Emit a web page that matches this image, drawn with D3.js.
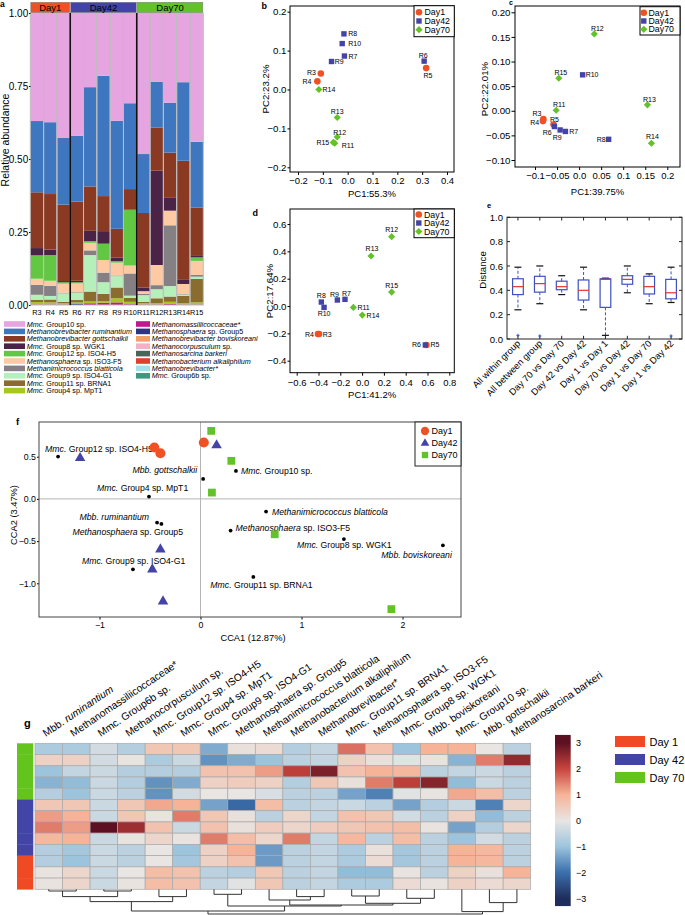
<!DOCTYPE html>
<html><head><meta charset="utf-8">
<script src="https://cdn.jsdelivr.net/npm/d3@7"></script>
<style>body{margin:0;background:#fff}</style>
</head><body>
<script>
// ---------------- DATA ----------------
const samples = ["R3","R4","R5","R6","R7","R8","R9","R10","R11","R12","R13","R14","R15"];
const sampleDay = ["Day1","Day1","Day1","Day42","Day42","Day42","Day42","Day42","Day70","Day70","Day70","Day70","Day70"];
const dayNames = ["Day1","Day42","Day70"];

// panel a: taxa (legend order, top of stack first)
const taxa = ["Mmc. Group10 sp.","Methanobrevibacter ruminantium","Methanobrevibacter gottschalkii","Mmc. Group8 sp. WGK1",
  "Mmc. Group12 sp. ISO4-H5","Methanosphaera sp. ISO3-F5","Methanimicrococcus blatticola","Mmc. Group9 sp. ISO4-G1",
  "Mmc. Group11 sp. BRNA1","Mmc. Group4 sp. MpT1","Methanomassiliicoccaceae*","Methanosphaera sp. Group5",
  "Methanobrevibacter boviskoreani","Methanocorpusculum sp.","Methanosarcina barkeri","Methanobacterium alkaliphilum",
  "Methanobrevibacter*","Mmc. Group6b sp."];
const abGroup10      = [0.370,0.374,0.428,0.421,0.254,0.215,0.369,0.309,0.483,0.236,0.307,0.237,0.441];
const abRuminantium  = [0.244,0.246,0.228,0.225,0.340,0.412,0.370,0.294,0.202,0.156,0.171,0.269,0.225];
const abGottschalkii = [0.191,0.190,0.262,0.271,0.152,0.120,0.099,0.070,0.255,0.148,0.155,0.408,0.166];
const abGroup8       = [0.025,0.019,0.004,0.005,0.035,0.043,0.012,0.002,0.012,0.323,0.044,0.014,0.005];
const abGroup12      = [0.080,0.088,0.005,0.004,0.006,0.056,0.005,0.190,0.002,0.000,0.000,0.000,0.012];
const abISO3F5       = [0.021,0.017,0.031,0.030,0.026,0.043,0.044,0.027,0.008,0.069,0.050,0.034,0.048];
const abBlatticola   = [0.034,0.035,0.002,0.002,0.016,0.033,0.002,0.076,0.004,0.014,0.208,0.002,0.006];
const abGroup9       = [0.017,0.012,0.029,0.025,0.125,0.040,0.039,0.007,0.023,0.031,0.036,0.005,0.008];
const abGroup11      = [0.008,0.010,0.005,0.008,0.034,0.025,0.037,0.014,0.005,0.017,0.018,0.025,0.080];
const abGroup4       = [0.008,0.007,0.004,0.004,0.006,0.005,0.014,0.008,0.004,0.004,0.006,0.004,0.007];
const abMassilii     = [0.002,0.002,0.002,0.000,0.006,0.008,0.009,0.003,0.002,0.002,0.005,0.002,0.002];
const abGroup5       = [0.000,0.000,0.000,0.005,0.000,0.000,0.000,0.000,0.000,0.000,0.000,0.000,0.000];
const abBoviskoreani = [0,0,0,0,0,0,0,0,0,0,0,0,0];
const abCorpusculum  = [0,0,0,0,0,0,0,0,0,0,0,0,0];
const abSarcina      = [0,0,0,0,0,0,0,0,0,0,0,0,0];
const abAlkaliphilum = [0,0,0,0,0,0,0,0,0,0,0,0,0];
const abMbbStar      = [0,0,0,0,0,0,0,0,0,0,0,0,0];
const abGroup6b      = [0,0,0,0,0,0,0,0,0,0,0,0,0];
const abundance = [abGroup10,abRuminantium,abGottschalkii,abGroup8,abGroup12,abISO3F5,abBlatticola,abGroup9,abGroup11,abGroup4,
  abMassilii,abGroup5,abBoviskoreani,abCorpusculum,abSarcina,abAlkaliphilum,abMbbStar,abGroup6b];
const aTicks = [0,0.25,0.5,0.75,1];

// panel b PCA
const bX = [-0.108,-0.122,0.316,0.308,-0.013,-0.015,-0.065,-0.022,-0.052,-0.042,-0.042,-0.116,-0.058];
const bY = [0.041,0.021,0.055,0.073,0.086,0.143,0.072,0.118,-0.138,-0.122,-0.072,0.000,-0.136];
const bXTicks = [-0.2,-0.1,0,0.1,0.2,0.3,0.4];
const bXTickLabels = ["−0.2","−0.1","0.0","0.1","0.2","0.3","0.4"];
const bYTicks = [-0.2,-0.1,0,0.1,0.2];
const bYTickLabels = ["−0.2","−0.1","0.0","0.1","0.2"];
// panel c PCA
const cX = [-0.081,-0.082,-0.058,-0.056,-0.031,0.067,-0.043,0.008,-0.052,0.0345,0.155,0.164,-0.046];
const cY = [-0.017,-0.021,-0.028,-0.032,-0.042,-0.058,-0.039,0.073,0.001,0.156,0.012,-0.066,0.066];
const cXTicks = [-0.1,-0.05,0,0.05,0.1,0.15,0.2];
const cXTickLabels = ["−0.1","−0.05","0.0","0.05","0.1","0.15","0.2"];
const cYTicks = [-0.1,-0.05,0,0.05,0.1,0.15,0.2];
const cYTickLabels = ["−0.10","−0.05","0.00","0.05","0.10","0.15","0.20"];
// panel d PCA
const dX = [-0.395,-0.405,0.59,0.58,-0.157,-0.374,-0.227,-0.349,-0.080,0.271,0.082,0.002,0.271];
const dY = [-0.205,-0.205,-0.285,-0.285,0.049,0.029,0.044,-0.010,-0.010,0.507,0.366,-0.066,0.102];
const dXTicks = [-0.6,-0.4,-0.2,0,0.2,0.4,0.6,0.8];
const dXTickLabels = ["−0.6","−0.4","−0.2","0.0","0.2","0.4","0.6","0.8"];
const dYTicks = [-0.4,-0.2,0,0.2,0.4,0.6];
const dYTickLabels = ["−0.4","−0.2","0.0","0.2","0.4","0.6"];

// panel e boxplots
const eCats = ["All within group","All between group","Day 70 vs Day 70","Day 42 vs Day 42","Day 1 vs Day 1","Day 70 vs Day 42","Day 1 vs Day 70","Day 1 vs Day 42"];
const eMin = [0.24,0.29,0.365,0.24,0.03,0.38,0.29,0.30];
const eQ1  = [0.365,0.385,0.405,0.32,0.26,0.45,0.37,0.33];
const eMed = [0.43,0.455,0.43,0.40,0.49,0.49,0.43,0.38];
const eQ3  = [0.495,0.515,0.475,0.485,0.495,0.52,0.515,0.49];
const eMax = [0.59,0.60,0.52,0.59,0.50,0.60,0.535,0.59];
const eOutliers = [[0.03],[0.025],[],[],[],[],[],[0.025]];
const eYTicks = [0,0.2,0.4,0.6,0.8,1.0];

// panel f CCA
const fDay1X = [-0.457,-0.397,0.033];           const fDay1Y = [0.609,0.541,0.668];
const fDay42X = [-1.192,0.159,-0.397,-0.477,-0.371]; const fDay42Y = [0.49,0.64,-0.593,-0.830,-1.209];
const fDay70X = [0.106,0.305,0.113,0.735,1.89];  const fDay70Y = [0.806,0.451,0.075,-0.419,-1.306];
const fSpecies = ["Mmc. Group12 sp. ISO4-H5","Mbb. gottschalkii","Mmc. Group10 sp.","Mmc. Group4 sp. MpT1","Mbb. ruminantium",
  "Methanosphaera sp. Group5","Mmc. Group9 sp. ISO4-G1","Methanimicrococcus blatticola","Methanosphaera sp. ISO3-F5",
  "Mmc. Group8 sp. WGK1","Mbb. boviskoreani","Mmc. Group11 sp. BRNA1"];
const fSpX = [-1.41,0.026,0.351,-0.51,-0.43,-0.387,-0.669,0.649,0.298,1.42,2.40,0.523];
const fSpY = [0.502,0.237,0.332,0.028,-0.281,-0.296,-0.834,-0.150,-0.375,-0.476,-0.55,-0.925];
const fXTicks = [-1,0,1,2];
const fXTickLabels = ["−1","0","1","2"];
const fYTicks = [-1,-0.5,0,0.5];
const fYTickLabels = ["−1.0","−0.5","0.0","0.5"];

// panel g heatmap
const hmCols = ["Mbb. ruminantium","Methanomassiliicoccaceae*","Mmc. Group6b sp.","Methanocorpusculum sp.","Mmc. Group12 sp. ISO4-H5",
  "Mmc. Group4 sp. MpT1","Mmc. Group9 sp. ISO4-G1","Methanosphaera sp. Group5","Methanimicrococcus blatticola",
  "Methanobacterium alkaliphilum","Methanobrevibacter*","Mmc. Group11 sp. BRNA1","Methanosphaera sp. ISO3-F5",
  "Mmc. Group8 sp. WGK1","Mbb. boviskoreani","Mmc. Group10 sp.","Mbb. gottschalkii","Methanosarcina barkeri"];
const hmRowDay = ["Day70","Day70","Day70","Day70","Day70","Day42","Day42","Day42","Day42","Day42","Day1","Day1","Day1"];
const hmR1  = [-0.8,-0.8,-0.3,-0.7,0.6,0.6,-1.3,0.1,0.2,-0.7,-0.5,1.6,0.7,-1.0,1.0,1.0,0,-0.6];
const hmR2  = [0.4,0.4,-0.3,0.05,-0.8,-0.4,-1.6,-1.3,-1.0,-0.6,-0.5,0.4,0.1,-0.1,0.05,-1.2,1.5,2.5];
const hmR3  = [-1.0,-0.5,-0.4,-0.7,-0.7,-0.7,0.7,0.7,1.2,2.1,2.7,0.7,1.0,0.9,-0.6,-0.5,-0.4,-0.6];
const hmR4  = [-1.2,-1.1,-0.4,-0.7,-1.6,-1.3,0.4,0.5,0.4,-0.7,0.6,0.1,1.5,2.1,2.6,-1.1,-0.4,-0.6];
const hmR5  = [-0.7,-1.0,-0.4,-0.6,-1.6,-0.3,0,0,-0.2,-0.6,-0.6,-1.4,-1.8,-0.1,0.05,1.1,0.8,-0.6];
const hmR6  = [0.6,0.6,-0.4,0.6,1.1,1.0,-1.4,-2.1,0.8,-0.6,-0.5,-0.4,-0.6,-1.4,-0.7,-0.4,-1.8,0.3];
const hmR7  = [1.2,1.0,-0.4,0.6,0.05,1.5,0.6,0.1,-0.6,0.3,-0.5,0.7,0.6,-0.3,-0.6,0.4,-1.1,-0.6];
const hmR8  = [1.5,1.2,3.0,2.4,0.7,-0.4,0.7,0.1,0.5,0.3,0.5,0.6,0.7,0.8,0.05,-1.4,-0.7,0.3];
const hmR9  = [0.9,1.0,-0.4,0.05,0.3,0.05,1.5,0.8,0.3,1.5,-0.5,0.9,-0.6,0.8,-0.6,-1.0,-0.3,-0.6];
const hmR10 = [-0.7,-0.9,-0.4,-0.6,0,-1.0,0.4,1.0,-1.5,-0.6,-0.5,-0.8,0.1,-0.9,-0.6,1.0,0.9,-0.6];
const hmR11 = [-0.7,-1.0,-0.4,-0.6,0,-0.9,0.4,0.7,-1.5,-0.6,-0.5,-0.8,0.2,-0.9,-0.6,1.0,0.9,-0.6];
const hmR12 = [0.05,0.3,-0.4,0,0.8,0.7,-0.6,-0.7,0.6,-0.6,-0.5,-1.1,-1.1,0.05,-0.6,0.4,0.1,1.0];
const hmR13 = [0.05,0.3,-0.4,0.05,0.8,0.7,-0.5,-0.1,0.6,-0.6,-0.5,-0.8,-0.8,0.2,0.05,0.4,0.2,0.3];
const hmRows = [hmR1,hmR2,hmR3,hmR4,hmR5,hmR6,hmR7,hmR8,hmR9,hmR10,hmR11,hmR12,hmR13];
const hmLegendTicks = [-3,-2,-1,0,1,2,3];
const hmLegendDays = ["Day 1","Day 42","Day 70"];
// column dendrogram: [left, right, height]; leaves are column indices
const colTree = [[[[[0,1,1.7],[2,3,1.7],7.3],[4,5,7.3],12.3],[[6,7,5],[[8,[9,10,7.3],10.7],[[11,12,6.7],[13,14,9],14],15.7],16.7],21.7],[15,[16,17,13.3],22.3],24.7];

// ---------------- STYLE ----------------
const FONT = "'Liberation Sans', Arial, Helvetica, sans-serif";
const taxonColors = ["#e6a5e1","#3e77c0","#8a3a22","#4a2347","#62c843","#fdcaa3","#858083","#b5efba","#8a6c2e","#a6c81a",
  "#c0198f","#2b3580","#f29f69","#f5b0c8","#4a6458","#e0402a","#a4e0e8","#3a9a80"];
const dayColor = {Day1:"#ef5125",Day42:"#4444a8",Day70:"#63c12a"};
const hmDayColor = {"Day1":"#ef4a24","Day42":"#4245a6","Day70":"#63c41e","Day 1":"#ef4a24","Day 42":"#4245a6","Day 70":"#63c41e"};

const svg = d3.select("body").append("svg").attr("width",685).attr("height",915).style("font-family",FONT);
svg.append("rect").attr("width",685).attr("height",915).attr("fill","#fff");

function taxonText(sel, name){
  const words = name.split(" ");
  words.forEach((w,i)=>{
    const up = w==="sp." || /\d/.test(w);
    sel.append("tspan").attr("font-style", up?"normal":"italic").text((i?" ":"")+w);
  });
}
function styleAxis(g, fs){
  g.attr("font-family",FONT).attr("font-size",fs);
  g.select(".domain").remove();
  g.selectAll(".tick line").attr("stroke","#000");
  g.selectAll(".tick text").attr("fill","#000");
}
function panelLetter(t,x,y,fs){ svg.append("text").attr("x",x).attr("y",y).attr("font-weight","bold").attr("font-size",fs).text(t); }
function marker(g, day, x, y, kind){
  const c = dayColor[day];
  if(kind==="pca"){
    if(day==="Day1") g.append("circle").attr("cx",x).attr("cy",y).attr("r",3.3).attr("fill",c);
    else if(day==="Day42") g.append("rect").attr("x",x-2.7).attr("y",y-2.7).attr("width",5.4).attr("height",5.4).attr("fill",c);
    else { const r=3.6; g.append("path").attr("d",`M${x},${y-r}L${x+r},${y}L${x},${y+r}L${x-r},${y}Z`).attr("fill",c); }
  } else {
    const s = kind;
    if(day==="Day1") g.append("circle").attr("cx",x).attr("cy",y).attr("r",s*0.48).attr("fill",c);
    else if(day==="Day42"){ const h=s*0.87; g.append("path").attr("d",`M${x},${y-h*0.62}L${x+s/2},${y+h*0.38}L${x-s/2},${y+h*0.38}Z`).attr("fill",c); }
    else g.append("rect").attr("x",x-s*0.37).attr("y",y-s*0.37).attr("width",s*0.74).attr("height",s*0.74).attr("fill",c);
  }
}

// ---------------- PANEL A ----------------
(function(){
  const g = svg.append("g");
  const ax = d3.scaleBand().domain(samples).range([30.3,203.3]);
  const ay = d3.scaleLinear().domain([0,1]).range([305,13]);
  const rows = samples.map((s,i)=>{ const o={}; taxa.forEach((t,j)=>o[t]=abundance[j][i]); return o; });
  const series = d3.stack().keys(taxa.slice().reverse())(rows);
  series.forEach(sr=>{
    const col = taxonColors[taxa.indexOf(sr.key)];
    g.append("g").selectAll("rect").data(sr).join("rect")
      .attr("x",(d,i)=>ax(samples[i])).attr("width",ax.bandwidth())
      .attr("y",d=>ay(d[1])).attr("height",d=>Math.max(0,ay(d[0])-ay(d[1]))).attr("fill",col);
  });
  g.append("g").selectAll("rect").data(samples).join("rect")
    .attr("x",d=>ax(d)).attr("width",ax.bandwidth()).attr("y",ay(1)).attr("height",ay(0)-ay(1))
    .attr("fill","none").attr("stroke","#bdbdbd").attr("stroke-width",1);
  ["R6","R11"].forEach(s=>g.append("line").attr("x1",ax(s)).attr("x2",ax(s)).attr("y1",ay(1)).attr("y2",ay(0)).attr("stroke","#111").attr("stroke-width",1.6));
  dayNames.forEach(day=>{
    const ss = samples.filter((s,i)=>sampleDay[i]===day);
    const x0 = ax(ss[0]), x1 = ax(ss[ss.length-1])+ax.bandwidth();
    g.append("rect").attr("x",x0+0.5).attr("y",2.3).attr("width",x1-x0-1).attr("height",10.2).attr("fill",dayColor[day]).attr("stroke","#777").attr("stroke-width",0.5);
    g.append("text").attr("x",(x0+x1)/2).attr("y",10.9).attr("text-anchor","middle").attr("font-size",9.5).text(day);
  });
  g.append("g").attr("transform","translate(30.5,0)")
    .call(d3.axisLeft(ay).tickValues(aTicks).tickFormat(d3.format(".2f")).tickSize(1.5).tickPadding(0.8)).call(a=>styleAxis(a,10));
  g.append("g").selectAll("text").data(samples).join("text")
    .attr("x",d=>ax(d)+ax.bandwidth()/2).attr("y",315).attr("text-anchor","middle").attr("font-size",7.3).text(d=>d);
  g.append("text").attr("transform","translate(9,140) rotate(-90)").attr("text-anchor","middle").attr("font-size",10.5).text("Relative abundance");
  taxa.forEach((t,i)=>{
    const col = i<10?0:1, row = i<10?i:i-10;
    const sx = col?136:4, sw = col?14:21, ty = 324+row*7.4;
    g.append("rect").attr("x",sx).attr("y",ty-2.8).attr("width",sw).attr("height",5.6).attr("fill",taxonColors[i]);
    const tx = g.append("text").attr("x",col?151.7:26.8).attr("y",ty+2.5).attr("font-size",7.2);
    taxonText(tx,t);
  });
  panelLetter("a",0,7,8.5);
})();

// ---------------- PANELS B, C, D ----------------
function drawPCA(cfg){
  const g = svg.append("g");
  const x = d3.scaleLinear().domain(cfg.xd).range(cfg.xr);
  const y = d3.scaleLinear().domain(cfg.yd).range(cfg.yr);
  const [fx0,fx1,fy0,fy1] = cfg.frame;
  g.append("g").attr("transform",`translate(0,${fy1})`)
    .call(d3.axisBottom(x).tickValues(cfg.xt).tickFormat((d,i)=>cfg.xtl[i]).tickSize(3).tickPadding(cfg.bp)).call(a=>styleAxis(a,9.5));
  g.append("g").attr("transform",`translate(${fx0},0)`)
    .call(d3.axisLeft(y).tickValues(cfg.yt).tickFormat((d,i)=>cfg.ytl[i]).tickSize(cfg.lt).tickPadding(1)).call(a=>styleAxis(a,9.7));
  g.append("rect").attr("x",fx0).attr("y",fy0).attr("width",fx1-fx0).attr("height",fy1-fy0).attr("fill","none").attr("stroke","#000").attr("stroke-width",1);
  dayNames.forEach(day=>samples.forEach((s,i)=>{ if(sampleDay[i]===day) marker(g,day,x(cfg.px[i]),y(cfg.py[i]),"pca"); }));
  samples.forEach((s,i)=>{
    const p = cfg.lab[s];
    g.append("text").attr("x",x(cfg.px[i])+p[0]).attr("y",y(cfg.py[i])+p[1]).attr("text-anchor",p[2]).attr("font-size",7).text(s);
  });
  const [lx0,lx1,ly0,ly1] = cfg.legBox;
  g.append("rect").attr("x",lx0).attr("y",ly0).attr("width",lx1-lx0).attr("height",ly1-ly0).attr("fill","#fff").attr("stroke","#000");
  dayNames.forEach((day,k)=>{
    const yy = cfg.legY[k];
    marker(g,day,cfg.legMX,yy,"pca");
    g.append("text").attr("x",cfg.legTX).attr("y",yy+3.1).attr("font-size",8.8).text(day);
  });
  g.append("text").attr("x",(fx0+fx1)/2).attr("y",cfg.xlabY).attr("text-anchor","middle").attr("font-size",9.5).text(cfg.xlab);
  g.append("text").attr("transform",`translate(${cfg.ylabX},${cfg.ylabC}) rotate(-90)`).attr("text-anchor","middle").attr("font-size",9.7).text(cfg.ylab);
}
drawPCA({xd:[-0.2,0.4],xr:[298,447],yd:[-0.2,0.2],yr:[167.3,11.7],frame:[290,454,6,172],xt:bXTicks,xtl:bXTickLabels,yt:bYTicks,ytl:bYTickLabels,
  bp:2.5,lt:2.5,px:bX,py:bY,
  lab:{R3:[-5,1.5,"end"],R4:[-6,2.5,"end"],R5:[-2.7,9.5,"start"],R6:[-1,-3.5,"middle"],R7:[4,3,"start"],R8:[4.3,2.5,"start"],R9:[3.3,2.5,"start"],
       R10:[6,2.5,"start"],R11:[7,5,"start"],R12:[-4,-2,"start"],R13:[0,-4,"middle"],R14:[3.7,2,"start"],R15:[-4,2.5,"end"]},
  legBox:[414,454.3,5.7,36.7],legY:[12.3,21,29.7],legMX:419,legTX:424.5,xlab:"PC1:55.3%",xlabY:196.5,ylab:"PC2:23.2%",ylabX:269,ylabC:89});
drawPCA({xd:[-0.1,0.2],xr:[535,667.3],yd:[-0.1,0.2],yr:[160,12.3],frame:[515,680,6,167],xt:cXTicks,xtl:cXTickLabels,yt:cYTicks,ytl:cYTickLabels,
  bp:2,lt:3.5,px:cX,py:cY,
  lab:{R3:[-2,-3,"end"],R4:[-3.7,3.5,"end"],R5:[1,-3,"middle"],R6:[-2.7,8.5,"end"],R7:[3.7,3,"start"],R8:[-3,3,"end"],R9:[-3,10,"middle"],
       R10:[3,2.5,"start"],R11:[3,-3,"middle"],R12:[3,-3,"middle"],R13:[2,-3,"middle"],R14:[1,-4,"middle"],R15:[2,-3,"middle"]},
  legBox:[640,680,6.7,35],legY:[12.7,21,29.3],legMX:643.8,legTX:648.5,xlab:"PC1:39.75%",xlabY:195,ylab:"PC2:22.01%",ylabX:488,ylabC:89});
drawPCA({xd:[-0.6,0.8],xr:[296.7,449.3],yd:[-0.4,0.6],yr:[360.7,224],frame:[290,454.3,209,372.7],xt:dXTicks,xtl:dXTickLabels,yt:dYTicks,ytl:dYTickLabels,
  bp:3.5,lt:2.5,px:dX,py:dY,
  lab:{R3:[3.7,3,"start"],R4:[-4,2.5,"end"],R5:[4,2.5,"start"],R6:[-4.3,2.5,"end"],R7:[1.5,-3,"middle"],R8:[0,-4,"middle"],R9:[-3,-3.5,"middle"],
       R10:[0,8.5,"middle"],R11:[4,2.5,"start"],R12:[0,-5,"middle"],R13:[1,-5,"middle"],R14:[4.3,2.5,"start"],R15:[0,-4,"middle"]},
  legBox:[414,454.3,209,237.7],legY:[214.5,223,231.5],legMX:418.8,legTX:424,xlab:"PC1:41.2%",xlabY:397.5,ylab:"PC2:17.64%",ylabX:273,ylabC:291});
panelLetter("b",261.5,8.5,9);
panelLetter("c",509,5,7);
panelLetter("d",252.5,216,9);

// ---------------- PANEL E ----------------
(function(){
  const g = svg.append("g");
  const x = d3.scaleBand().domain(eCats).range([507,682]);
  const y = d3.scaleLinear().domain([0,1]).range([339,217.3]);
  const cx = c=>x(c)+x.bandwidth()/2;
  g.append("rect").attr("x",507).attr("y",217.3).attr("width",175).attr("height",121.7).attr("fill","none").attr("stroke","#222");
  g.append("g").attr("transform","translate(507,0)").call(d3.axisLeft(y).tickValues(eYTicks).tickFormat(d3.format(".1f")).tickSize(0).tickPadding(4)).call(a=>styleAxis(a,9.5));
  eYTicks.forEach(v=>{ [[507,510],[679,682]].forEach(([a,b])=>g.append("line").attr("x1",a).attr("x2",b).attr("y1",y(v)).attr("y2",y(v)).attr("stroke","#222")); });
  eCats.forEach((c,i)=>{
    const xc = cx(c), w = 10.7, cw = 3.5;
    g.append("line").attr("x1",xc).attr("x2",xc).attr("y1",217.3).attr("y2",220.5).attr("stroke","#222");
    g.append("line").attr("x1",xc).attr("x2",xc).attr("y1",339).attr("y2",335.8).attr("stroke","#222");
    g.append("line").attr("x1",xc).attr("x2",xc).attr("y1",y(eQ3[i])).attr("y2",y(eMax[i])).attr("stroke","#3d50c2").attr("stroke-dasharray","3,2");
    g.append("line").attr("x1",xc).attr("x2",xc).attr("y1",y(eQ1[i])).attr("y2",y(eMin[i])).attr("stroke","#3d50c2").attr("stroke-dasharray","3,2");
    [eMin[i],eMax[i]].forEach(v=>g.append("line").attr("x1",xc-cw).attr("x2",xc+cw).attr("y1",y(v)).attr("y2",y(v)).attr("stroke","#111").attr("stroke-width",1.2));
    g.append("rect").attr("x",xc-w/2).attr("y",y(eQ3[i])).attr("width",w).attr("height",y(eQ1[i])-y(eQ3[i])).attr("fill","none").attr("stroke","#3d50c2").attr("stroke-width",1.2);
    g.append("line").attr("x1",xc-w/2).attr("x2",xc+w/2).attr("y1",y(eMed[i])).attr("y2",y(eMed[i])).attr("stroke","#e8332a").attr("stroke-width",1.2);
    eOutliers[i].forEach(v=>{
      g.append("line").attr("x1",xc-1.6).attr("x2",xc+1.6).attr("y1",y(v)).attr("y2",y(v)).attr("stroke","#3d50c2");
      g.append("line").attr("x1",xc).attr("x2",xc).attr("y1",y(v)-1.6).attr("y2",y(v)+1.6).attr("stroke","#3d50c2");
    });
    g.append("text").attr("transform",`translate(${xc+3},${344}) rotate(-45)`).attr("text-anchor","end").attr("font-size",9.3).text(c);
  });
  g.append("text").attr("transform","translate(486,270) rotate(-90)").attr("text-anchor","middle").attr("font-size",9.7).text("Distance");
  panelLetter("e",487,208,7.5);
})();

// ---------------- PANEL F ----------------
(function(){
  const g = svg.append("g");
  const x = d3.scaleLinear().domain([-1,2]).range([99.5,402.5]);
  const y = d3.scaleLinear().domain([-1,0.5]).range([583.3,456.7]);
  const fx0=39, fx1=461, fy0=422, fy1=617;
  g.append("line").attr("x1",x(0)).attr("x2",x(0)).attr("y1",fy0).attr("y2",fy1).attr("stroke","#b5b5b5");
  g.append("line").attr("x1",fx0).attr("x2",fx1).attr("y1",y(0)).attr("y2",y(0)).attr("stroke","#b5b5b5");
  g.append("g").attr("transform",`translate(0,${fy1})`).call(d3.axisBottom(x).tickValues(fXTicks).tickFormat((d,i)=>fXTickLabels[i]).tickSize(2.5).tickPadding(2.5)).call(a=>styleAxis(a,8.8));
  g.append("g").attr("transform",`translate(${fx0},0)`).call(d3.axisLeft(y).tickValues(fYTicks).tickFormat((d,i)=>fYTickLabels[i]).tickSize(2).tickPadding(1)).call(a=>styleAxis(a,8.8));
  g.append("rect").attr("x",fx0).attr("y",fy0).attr("width",fx1-fx0).attr("height",fy1-fy0).attr("fill","none").attr("stroke","#444").attr("stroke-width",1);
  const spLab = [[-13,-5,"start"],[-6,-5.5,"end"],[5,3,"start"],[-52,-6,"start"],[-8,-2.5,"end"],[-89,11,"start"],[-51,-5,"start"],
                 [6,3,"start"],[5,0.5,"start"],[-47,9,"start"],[9,13,"end"],[-43,11,"start"]];
  fSpecies.forEach((s,i)=>{
    const px=x(fSpX[i]), py=y(fSpY[i]);
    const t = g.append("text").attr("x",px+spLab[i][0]).attr("y",py+spLab[i][1]).attr("text-anchor",spLab[i][2]).attr("font-size",8.7);
    taxonText(t,s);
  });
  fSpecies.forEach((s,i)=>g.append("circle").attr("cx",x(fSpX[i])).attr("cy",y(fSpY[i])).attr("r",1.9).attr("fill","#000"));
  [[fDay1X,fDay1Y,"Day1"],[fDay42X,fDay42Y,"Day42"],[fDay70X,fDay70Y,"Day70"]].forEach(([xs,ys,day])=>{
    xs.forEach((v,i)=>marker(g,day,x(v),y(ys[i]),10.5));
  });
  g.append("rect").attr("x",415).attr("y",422).attr("width",46).attr("height",44).attr("fill","#fff").attr("stroke","#222");
  dayNames.forEach((day,k)=>{
    const yy = 431+k*12;
    marker(g,day,425,yy,8.6);
    g.append("text").attr("x",431.5).attr("y",yy+3.3).attr("font-size",9).text(day);
  });
  g.append("text").attr("x",253).attr("y",641).attr("text-anchor","middle").attr("font-size",9.3).text("CCA1 (12.87%)");
  g.append("text").attr("transform","translate(17,515) rotate(-90)").attr("text-anchor","middle").attr("font-size",9.3).text("CCA2 (3.47%)");
  panelLetter("f",16,425,9.5);
})();

// ---------------- PANEL G ----------------
(function(){
  const g = svg.append("g");
  const hx = d3.scaleBand().domain(d3.range(hmCols.length)).range([35,530.7]);
  const hy = d3.scaleBand().domain(d3.range(hmRows.length)).range([743.3,889.3]);
  const color = d3.scaleLinear().domain([-3,-2,-1,0,1,2,3])
    .range(["#1f2d5c","#3b70ad","#9dc4dd","#e8e5e3","#f6b397","#c8443d","#5c1021"]).clamp(true);
  hmRows.forEach((row,r)=>{
    row.forEach((v,c)=>g.append("rect").attr("x",hx(c)).attr("y",hy(r)).attr("width",hx.bandwidth()).attr("height",hy.bandwidth())
      .attr("fill",color(v)).attr("stroke","#a9a9a9").attr("stroke-width",0.7));
    g.append("rect").attr("x",17).attr("y",hy(r)).attr("width",16.3).attr("height",hy.bandwidth()+0.3).attr("fill",hmDayColor[hmRowDay[r]]);
  });
  hmCols.forEach((name,c)=>{
    const t = g.append("text").attr("transform",`translate(${hx(c)+hx.bandwidth()/2-3},737) rotate(-34)`).attr("font-size",10.3);
    if(name==="Mbb. ruminantium"){ t.append("tspan").text("Mbb. "); t.append("tspan").attr("font-style","italic").text("ruminantium"); }
    else t.text(name);
  });
  const dh = d3.scaleLinear().domain([0,25]).range([889.3,914.3]);
  function walk(node){
    if(typeof node==="number") return {x:hx(node)+hx.bandwidth()/2,h:0};
    const a = walk(node[0]), b = walk(node[1]), h = node[2];
    g.append("path").attr("d",`M${a.x},${dh(a.h)}V${dh(h)}H${b.x}V${dh(b.h)}`).attr("fill","none").attr("stroke","#333").attr("stroke-width",1);
    return {x:(a.x+b.x)/2,h:h};
  }
  walk(colTree);
  const cb = d3.scaleLinear().domain([-3,3]).range([898.3,742.7]);
  const grad = svg.append("defs").append("linearGradient").attr("id","cbg").attr("x1",0).attr("x2",0).attr("y1",1).attr("y2",0);
  d3.range(-3.3,3.31,0.1).forEach(v=>grad.append("stop").attr("offset",(v+3.3)/6.6).attr("stop-color",color(v)));
  g.append("rect").attr("x",555).attr("y",cb(3.3)).attr("width",15.7).attr("height",cb(-3.3)-cb(3.3)).attr("fill","url(#cbg)");
  hmLegendTicks.forEach(v=>g.append("text").attr("x",576).attr("y",cb(v)+3.3).attr("font-size",9).text(v<0?"−"+Math.abs(v):String(v)));
  hmLegendDays.forEach((d,k)=>{
    const yy = 736+k*18;
    g.append("rect").attr("x",615).attr("y",yy).attr("width",30).attr("height",11).attr("fill",hmDayColor[d]);
    g.append("text").attr("x",649.5).attr("y",yy+9.5).attr("font-size",11).text(d);
  });
  panelLetter("g",24,727,11);
})();
</script>
</body></html>
